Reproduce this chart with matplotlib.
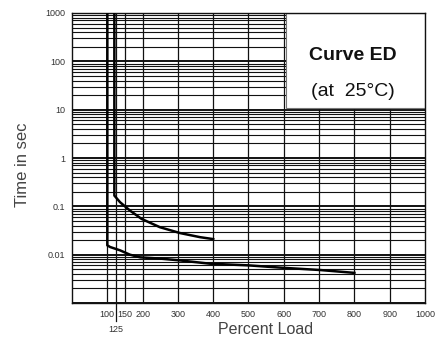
import matplotlib
matplotlib.use("Agg")
import matplotlib.pyplot as plt
from matplotlib.patches import Rectangle
from matplotlib import font_manager as fm

# ---- data ----
upper_x = [120, 120, 136, 164, 197, 249, 306, 363, 400]
upper_y = [1000, 0.167, 0.122, 0.082, 0.055, 0.037, 0.028, 0.023, 0.021]

lower_x = [100, 100, 108, 136, 164, 193, 249, 306, 391, 501, 589, 705, 800]
lower_y = [1000, 0.0156, 0.0144, 0.0123, 0.010, 0.0088, 0.0083, 0.0076,
           0.0065, 0.0060, 0.0054, 0.0048, 0.0042]

x_ticks = [100, 150, 200, 300, 400, 500, 600, 700, 800, 900, 1000]
x_ticklabels = ["100", "150", "200", "300", "400", "500", "600", "700", "800", "900", "1000"]
extra_tick = 125
y_ticks = [1000, 100, 10, 1, 0.1, 0.01]
y_ticklabels = ["1000", "100", "10", "1", "0.1", "0.01"]

title1 = "Curve ED"
title2 = "(at  25\u00b0C)"
xlabel = "Percent Load"
ylabel = "Time in sec"

names = {f.name for f in fm.fontManager.ttflist}
narrow = ["Liberation Sans Narrow", "Liberation Sans", "DejaVu Sans"] if "Liberation Sans Narrow" in names else ["Liberation Sans", "DejaVu Sans"]

fig = plt.figure(figsize=(4.41, 3.45), dpi=100)
ax = fig.add_axes([72/441, 1 - 303/345, 353/441, 290/345])
ax.set_yscale("log")
ax.set_xlim(0, 1000)
ax.set_ylim(0.001, 1000)

# grid
for dec in range(-3, 3):
    for m in range(1, 10):
        v = m * 10.0 ** dec
        ax.axhline(v, color="#111111", lw=1.4 if m == 1 else 0.8, zorder=1)
for xv in [100, 125, 150, 200, 300, 400, 500, 600, 700, 800, 900]:
    ax.axvline(xv, color="#111111", lw=0.9, zorder=1)

# text box
ax.add_patch(Rectangle((607, 11), 1000 - 607, 1000 - 11, facecolor="white",
                       edgecolor="#777777", lw=0.8, zorder=2))
ax.text(0.796, 0.853, title1, transform=ax.transAxes, ha="center", va="center",
        fontsize=14, fontweight="bold", family=["Liberation Sans", "DejaVu Sans"], color="#111111", zorder=3)
ax.text(0.796, 0.731, title2, transform=ax.transAxes, ha="center", va="center",
        fontsize=14, family=["Liberation Sans", "DejaVu Sans"], color="#111111", zorder=3)

# curves
ax.plot(upper_x, upper_y, color="black", lw=1.8, zorder=4)
ax.plot(lower_x, lower_y, color="black", lw=1.8, zorder=4)

ax.set_xticks(x_ticks)
ax.set_xticklabels(x_ticklabels, family=narrow, fontsize=6.5, color="#333333")
ax.set_yticks(y_ticks)
ax.set_yticklabels(y_ticklabels, family=narrow, fontsize=6.5, color="#333333")
ax.minorticks_off()
ax.tick_params(length=0, pad=5)

# extra 125 tick below axis
ax.plot([extra_tick, extra_tick], [0.001, 0.001 / 10 ** (18 / 48.33)], color="#111111",
        lw=0.9, clip_on=False, zorder=1)
ax.text(extra_tick, 0.001 / 10 ** (26 / 48.33), str(extra_tick), ha="center", va="center",
        family=narrow, fontsize=6.5, color="#333333")

for s in ax.spines.values():
    s.set_color("#111111")
    s.set_linewidth(1.0)

fig.text(266 / 441, 1 - 330 / 345, xlabel, ha="center", va="center",
         family=narrow, fontsize=11.5, color="#444444")
fig.text(23 / 441, 1 - 165 / 345, ylabel, ha="center", va="center", rotation=90,
         family=narrow, fontsize=12, color="#444444")

fig.savefig("out.png", dpi=100)
